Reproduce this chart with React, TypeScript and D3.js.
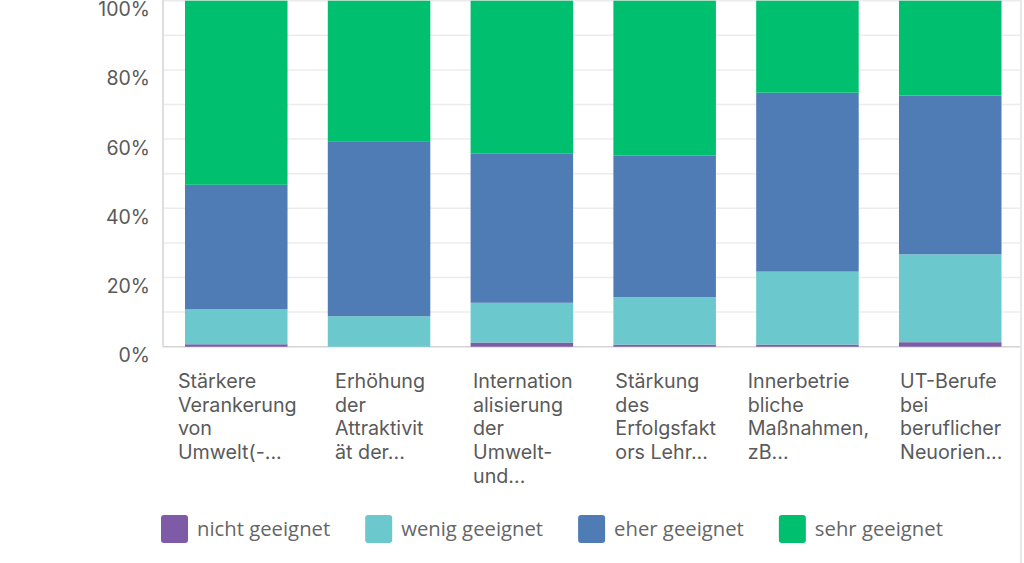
import React from "react";
import * as d3 from "d3";

const categories: string[][] = [
  ["Stärkere", "Verankerung", "von", "Umwelt(-..."],
  ["Erhöhung", "der", "Attraktivit", "ät der..."],
  ["Internation", "alisierung", "der", "Umwelt-", "und..."],
  ["Stärkung", "des", "Erfolgsfakt", "ors Lehr..."],
  ["Innerbetrie", "bliche", "Maßnahmen,", "zB..."],
  ["UT-Berufe", "bei", "beruflicher", "Neuorien..."],
];

const seriesNames = ["nicht geeignet", "wenig geeignet", "eher geeignet", "sehr geeignet"];
const nicht = [0.7, 0, 1.2, 0.6, 0.6, 1.3];
const wenig = [10.1, 8.8, 11.5, 13.7, 21.1, 25.4];
const eher = [36.0, 50.4, 43.2, 41.0, 51.7, 45.9];
const sehr = [53.2, 40.8, 44.1, 44.7, 26.6, 27.4];
const yTicks = [0, 20, 40, 60, 80, 100];
const gridTicks = [10, 20, 30, 40, 50, 60, 70, 80, 90, 100];

const colors = ["#7D5BA6", "#6BC8CD", "#507CB6", "#00BF6F"];

const W = 1024;
const H = 563;

function measure(text: string, font: string): number {
  const c = document.createElement("canvas");
  const ctx = c.getContext("2d")!;
  ctx.font = font;
  return ctx.measureText(text).width;
}

export default function App() {
  const x = d3
    .scaleBand<number>()
    .domain(d3.range(categories.length))
    .range([163, 1023.5])
    .paddingInner(0.282)
    .paddingOuter(0.154);
  const y = d3.scaleLinear().domain([0, 100]).range([346.7, 0.7]);

  const series = [nicht, wenig, eher, sehr];
  const rows = categories.map((_, i) => ({
    i,
    s0: series[0][i],
    s1: series[1][i],
    s2: series[2][i],
    s3: series[3][i],
  }));
  const stack = d3.stack<any>().keys(["s0", "s1", "s2", "s3"]);
  const stacked = stack(rows);

  const labelSize = 19.7;
  const labelFont = `${labelSize}px Inter`;
  const legendSize = 20.3;
  const legendFont = `${legendSize}px 'Open Sans'`;
  const textColor = "#5a5a5a";

  // legend layout
  let lx = 161;
  const legendItems = seriesNames.map((name, k) => {
    const item = { name, k, x: lx };
    lx += 27 + 9 + measure(name, legendFont) + 35;
    return item;
  });

  return (
    <svg
      width={W}
      height={H}
      style={{ position: "absolute", left: 0, top: 0, background: "#fff" }}
    >
      {/* grid lines */}
      {gridTicks.map((t) => (
        <line
          key={"g" + t}
          x1={163}
          x2={1020}
          y1={y(t)}
          y2={y(t)}
          stroke="#ececec"
          strokeWidth={1.5}
        />
      ))}
      {/* axes */}
      <line x1={163} x2={163} y1={0} y2={y(0)} stroke="#d4d4d4" strokeWidth={1.5} />
      <line x1={163} x2={1020} y1={y(0)} y2={y(0)} stroke="#d4d4d4" strokeWidth={1.5} />
      {/* right border */}
      <line x1={1021} x2={1021} y1={0} y2={H} stroke="#e0e0e0" strokeWidth={1.5} />

      {/* y labels */}
      {yTicks.map((t) => (
        <text
          key={"y" + t}
          x={150}
          y={y(t) + 15.5}
          textAnchor="end"
          fontFamily="Inter"
          fontSize={19.5}
          fill={textColor}
        >
          {t}%
        </text>
      ))}

      {/* bars */}
      {stacked.map((layer, k) => (
        <g key={"s" + k} fill={colors[k]}>
          {layer.map((d, i) => (
            <rect
              key={i}
              x={x(i)!}
              width={x.bandwidth()}
              y={y(d[1])}
              height={Math.max(0, y(d[0]) - y(d[1]))}
            />
          ))}
        </g>
      ))}

      {/* x labels */}
      {categories.map((lines, i) => {
        const maxW = d3.max(lines, (l) => measure(l, labelFont)) || 0;
        const cx = x(i)! + x.bandwidth() / 2;
        const left = cx - maxW / 2 + 1;
        return (
          <text
            key={"x" + i}
            fontFamily="Inter"
            fontSize={labelSize}
            fill={textColor}
          >
            {lines.map((l, j) => (
              <tspan key={j} x={left} y={388 + j * 23.7}>
                {l}
              </tspan>
            ))}
          </text>
        );
      })}

      {/* legend */}
      {legendItems.map((it) => (
        <g key={"l" + it.k}>
          <rect x={it.x} y={515} width={27} height={28} rx={3} fill={colors[it.k]} />
          <text
            x={it.x + 36}
            y={536}
            fontFamily="'Open Sans'"
            fontSize={legendSize}
            fill="#666"
          >
            {it.name}
          </text>
        </g>
      ))}
    </svg>
  );
}
